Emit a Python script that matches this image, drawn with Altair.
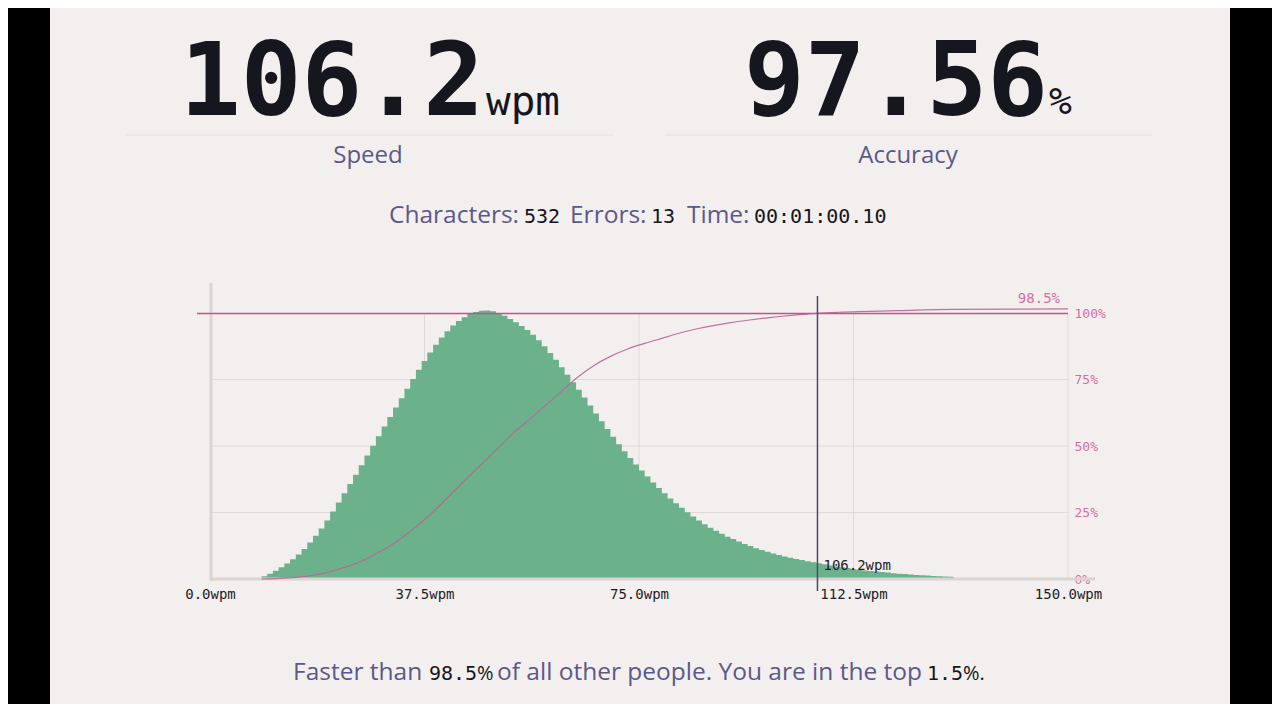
import altair as alt
import pandas as pd

# ---------------- data ----------------
speed = "106.2"
accuracy = "97.56"
characters = "532"
errors = "13"
elapsed = "00:01:00.10"
percentile = "98.5"
top_pct = "1.5"
speed_value = 106.2

bin_start = list(range(150))
bin_height = [
    0, 0, 0, 0, 0, 0, 0, 0, 0, 1.0,
    2.0, 3.1, 4.4, 5.8, 7.4, 9.2, 11.3, 13.7, 16.3, 19.0,
    22.0, 25.4, 28.8, 32.2, 35.7, 39.2, 42.8, 46.4, 50.1, 53.7,
    57.3, 60.9, 64.5, 68.0, 71.5, 75.2, 78.7, 82.0, 85.2, 88.1,
    90.8, 93.2, 95.3, 97.0, 98.4, 99.6, 100.4, 100.9, 101.0, 100.7,
    99.9, 99.0, 97.8, 96.5, 95.1, 93.6, 91.8, 89.8, 87.5, 85.0,
    82.4, 79.6, 76.8, 74.0, 71.2, 68.2, 65.2, 62.2, 59.3, 56.4,
    53.5, 50.7, 48.0, 45.5, 43.1, 40.8, 38.5, 36.3, 34.2, 32.2,
    30.3, 28.5, 26.8, 25.1, 23.5, 22.0, 20.6, 19.3, 18.1, 17.0,
    15.9, 15.0, 14.1, 13.2, 12.4, 11.6, 10.9, 10.2, 9.6, 9.0,
    8.5, 8.0, 7.5, 7.1, 6.7, 6.3, 5.9, 5.5, 5.1, 4.7,
    4.4, 4.1, 3.8, 3.5, 3.2, 3.0, 2.8, 2.6, 2.4, 2.2,
    2.0, 1.9, 1.7, 1.5, 1.4, 1.3, 1.1, 1.0, 0.9, 0.8,
    0, 0, 0, 0, 0, 0, 0, 0, 0, 0,
    0, 0, 0, 0, 0, 0, 0, 0, 0, 0,
]

cdf_wpm = [9, 12, 15, 18, 20, 22.5, 25, 28, 30, 32, 34, 36, 38, 41, 44, 47, 50, 53,
           56, 58.5, 61, 64, 67, 70, 73, 76, 79, 82, 85, 88, 91, 94, 97, 100, 103,
           106, 110, 115, 120, 130, 150]
cdf_pct = [0, 0.2, 0.6, 1.4, 2.2, 3.7, 5.4, 8.3, 10.6, 13.3, 16.3, 19.6, 23.3, 29.4,
           35.8, 42.2, 48.5, 54.8, 60.3, 65.0, 69.7, 75.4, 80.1, 83.7, 86.5, 88.6,
           90.5, 92.4, 94.0, 95.3, 96.4, 97.3, 98.1, 98.8, 99.4, 99.9, 100.3, 100.6,
           100.9, 101.4, 101.6]

x_ticks = [0, 37.5, 75, 112.5, 150]
y_ticks = [0, 25, 50, 75, 100]
x_grid = [37.5, 75, 112.5, 150]
y_grid = [25, 50, 75]

# ---------------- layout / style ----------------
W, H = 858, 296
PL, PT = 202, 275
PR = 1264 - PL - W
PB = 696 - PT - H
OX, OY = 210, 283  # page position of the plot origin

BG = "#f3efee"
GREEN = "#6bb28c"
PINK = "#c4528c"
PINK_TXT = "#d4709f"
CDF = "#bb6492"
GRID = "#e1d9d9"
AXIS = "#dcd3d3"
LABEL = "#5b5989"
INK = "#16161f"
MONO = "DejaVu Sans Mono"
SANS = "Open Sans"


def px(x):
    return x - OX


def py(y):
    return y - OY


xs = alt.Scale(domain=[0, 150], nice=False, zero=False)
ys = alt.Scale(domain=[0, 111.3], nice=False, zero=False)

xaxis = alt.Axis(values=x_ticks, labelExpr="format(datum.value, '.1f') + 'wpm'", title=None,
                 domain=False, ticks=False, grid=False, labelFont=MONO, labelFontSize=14,
                 labelColor="#1d1d27", labelPadding=8, labelFlush=False, labelOverlap=False)
yaxis = alt.Axis(orient="right", values=y_ticks, labelExpr="datum.value + '%'", title=None,
                 domain=False, ticks=False, grid=False, labelFont=MONO, labelFontSize=13,
                 labelColor=PINK_TXT, labelPadding=6, labelFlush=False, labelOverlap=False)

one = pd.DataFrame({"a": [0]})
hist = pd.DataFrame({"wpm": bin_start + [150], "pct": bin_height + [0]})
cdf = pd.DataFrame({"wpm": cdf_wpm, "pct": cdf_pct})


def prect(x0, x1, y0, y1, color):
    return alt.Chart(one).mark_rect(color=color).encode(
        x=alt.value(px(x0)), x2=alt.value(px(x1)), y=alt.value(py(y0)), y2=alt.value(py(y1)))


def prule(x0, x1, y0, y1, color, width=1.0):
    return alt.Chart(one).mark_rule(color=color, strokeWidth=width).encode(
        x=alt.value(px(x0)), x2=alt.value(px(x1)), y=alt.value(py(y0)), y2=alt.value(py(y1)))


def txt(s, x, y, size, font, color, weight="normal", align="left"):
    return alt.Chart(one).mark_text(text=s, font=font, fontSize=size, color=color,
                                    fontWeight=weight, align=align, baseline="alphabetic").encode(
        x=alt.value(px(x)), y=alt.value(py(y)))


layers = []
# letterbox bars
layers.append(prect(0, 50, 0, 720, "#000000"))
layers.append(prect(1230, 1280, 0, 720, "#000000"))

# headline numbers
layers.append(txt(speed, 180, 115, 101, MONO, INK, "bold"))
layers.append(txt("wpm", 486, 115, 41, MONO, INK))
layers.append(txt(accuracy, 744, 115, 101, MONO, INK, "bold"))
layers.append(txt("%", 1049, 114, 38, MONO, INK))
layers.append(prule(125, 613, 135, 135, "#e6dfdf"))
layers.append(prule(665, 1152, 135, 135, "#e6dfdf"))
layers.append(txt("Speed", 368, 163, 24, SANS, LABEL, align="center"))
layers.append(txt("Accuracy", 908, 163, 24, SANS, LABEL, align="center"))

# stats line
layers.append(txt("Characters:", 389, 223, 24.5, SANS, LABEL))
layers.append(txt(characters, 524, 223, 20, MONO, INK))
layers.append(txt("Errors:", 570, 223, 24.5, SANS, LABEL))
layers.append(txt(errors, 651, 223, 20, MONO, INK))
layers.append(txt("Time:", 687, 223, 24.5, SANS, LABEL))
layers.append(txt(elapsed, 754, 223, 20, MONO, INK))

# bottom sentence
layers.append(txt("Faster than", 293, 680, 24.5, SANS, LABEL))
layers.append(txt(percentile, 429, 680, 20, MONO, INK))
layers.append(txt("%", 477, 680, 20, SANS, INK))
layers.append(txt("of all other people. You are in the top", 497, 680, 24.5, SANS, LABEL))
layers.append(txt(top_pct, 927, 680, 20, MONO, INK))
layers.append(txt("%.", 963, 680, 20, SANS, INK))

# grid
layers.append(alt.Chart(pd.DataFrame({"v": x_grid})).mark_rule(color=GRID, strokeWidth=1).encode(
    x=alt.X("v:Q", scale=xs, axis=xaxis),
    y=alt.YDatum(100, scale=ys, axis=yaxis), y2=alt.Y2Datum(0)))
layers.append(alt.Chart(pd.DataFrame({"v": y_grid})).mark_rule(color=GRID, strokeWidth=1).encode(
    y=alt.Y("v:Q", scale=ys, axis=yaxis),
    x=alt.XDatum(0, scale=xs, axis=xaxis), x2=alt.X2Datum(150)))

# histogram
layers.append(alt.Chart(hist).mark_area(interpolate="step-after", color=GREEN, opacity=1).encode(
    x=alt.X("wpm:Q", scale=xs, axis=xaxis),
    y=alt.Y("pct:Q", scale=ys, axis=yaxis)))

# axis lines
layers.append(prule(211, 211, 283, 581, AXIS, 3))
layers.append(prule(210, 1095, 579, 579, AXIS, 3))

# 100% line
layers.append(prule(197, 1068, 313.5, 313.5, PINK, 1.5))

# cumulative line
layers.append(alt.Chart(cdf).mark_line(color=CDF, strokeWidth=1.2, opacity=0.9,
                                       interpolate="monotone").encode(
    x=alt.X("wpm:Q", scale=xs, axis=xaxis),
    y=alt.Y("pct:Q", scale=ys, axis=yaxis)))

# marker for the user's speed
layers.append(alt.Chart(one).mark_rule(color="#4b4a68", strokeWidth=1.5).encode(
    x=alt.XDatum(speed_value, scale=xs, axis=xaxis),
    y=alt.value(py(296)), y2=alt.value(py(591))))
layers.append(alt.Chart(one).mark_text(text=speed + "wpm", font=MONO, fontSize=14, color="#1d1d27",
                                       align="left", baseline="alphabetic", dx=6).encode(
    x=alt.XDatum(speed_value, scale=xs, axis=xaxis), y=alt.value(py(570))))
layers.append(txt(percentile + "%", 1060, 303, 14, MONO, PINK_TXT, align="right"))

chart = alt.layer(*layers).properties(
    width=W, height=H,
    autosize=alt.AutoSizeParams(type="none"),
    padding={"left": PL, "top": PT, "right": PR, "bottom": PB},
).configure(background=BG).configure_view(stroke=None)

chart.save("out.html", embed_options={"renderer": "svg", "actions": False})
